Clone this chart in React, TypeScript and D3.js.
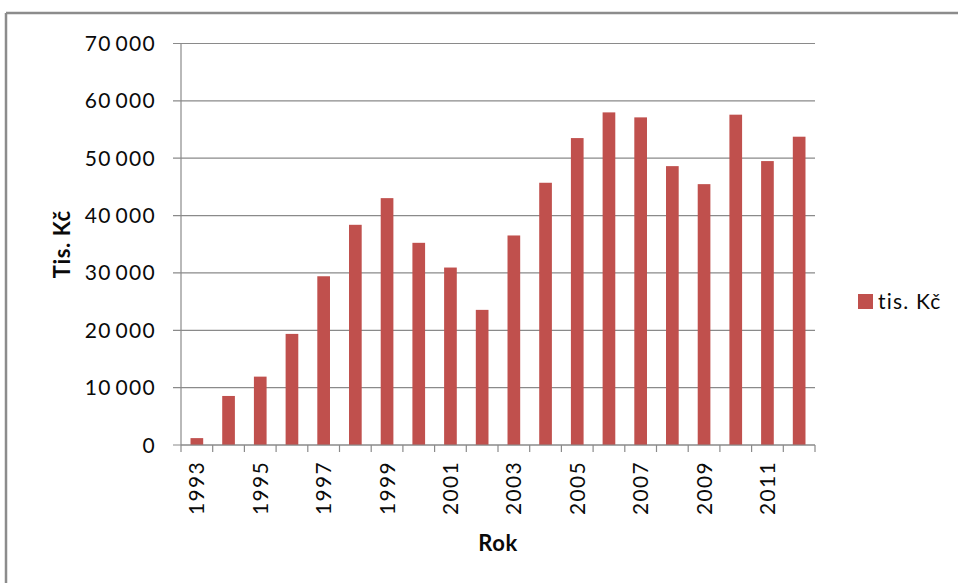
import React from "react";
import * as d3 from "d3";

const years = ["1993","1994","1995","1996","1997","1998","1999","2000","2001","2002","2003","2004","2005","2006","2007","2008","2009","2010","2011","2012"];
const values = [1200, 8550, 11920, 19370, 29420, 38390, 43040, 35250, 30940, 23560, 36530, 45720, 53510, 57990, 57120, 48620, 45480, 57590, 49500, 53750];
const yTicks = [0, 10000, 20000, 30000, 40000, 50000, 60000, 70000];
const xTickLabels = ["1993","1995","1997","1999","2001","2003","2005","2007","2009","2011"];
const seriesName = "tis. Kč";
const yTitle = "Tis. Kč";
const xTitle = "Rok";

const W = 958, H = 583;
const left = 181, right = 815, top = 43.5, bottom = 445;
const barColor = "#C0504D";
const gridColor = "#8a8a8a";
const font = "Lato, 'Open Sans', sans-serif";

const fmt = d3.formatLocale({ decimal: ",", thousands: "\u2009", grouping: [3], currency: ["", ""] }).format(",d");

export default function App() {
  const x = d3.scaleBand<string>().domain(years).range([left, right]).padding(0);
  const y = d3.scaleLinear().domain([0, 70000]).range([bottom, top]);
  const bw = x.bandwidth() * 0.4;
  const boundaries = years.map((yr) => x(yr) as number).concat([right]);

  return (
    <svg width={W} height={H} style={{ position: "absolute", left: 0, top: 0, background: "#fff" }}>
      <rect x={0} y={0} width={W} height={H} fill="#fff" />
      {/* outer frame */}
      <line x1={6} y1={13} x2={W} y2={13} stroke="#8c8c8c" strokeWidth={2.5} />
      <line x1={6} y1={13} x2={6} y2={H} stroke="#8c8c8c" strokeWidth={2.5} />

      {/* gridlines and y ticks */}
      {yTicks.map((t) => (
        <g key={t}>
          <line x1={173} x2={right} y1={y(t)} y2={y(t)} stroke={gridColor} strokeWidth={1.2} />
          <text x={156} y={y(t)} dy="0.36em" textAnchor="end" fontFamily={font} fontSize={21} letterSpacing={1.3} fill="#0a0a0a">
            {fmt(t)}
          </text>
        </g>
      ))}
      {/* y axis */}
      <line x1={left} x2={left} y1={top} y2={bottom} stroke={gridColor} strokeWidth={1.2} />

      {/* bars */}
      {years.map((yr, i) => (
        <rect
          key={yr}
          x={(x(yr) as number) + x.bandwidth() / 2 - bw / 2}
          y={y(values[i])}
          width={bw}
          height={bottom - y(values[i])}
          fill={barColor}
        />
      ))}

      {/* x axis */}
      <line x1={left} x2={right} y1={bottom} y2={bottom} stroke={gridColor} strokeWidth={1.2} />
      {boundaries.map((b, i) => (
        <line key={i} x1={b} x2={b} y1={bottom} y2={bottom + 7} stroke={gridColor} strokeWidth={1.2} />
      ))}
      {xTickLabels.map((yr) => {
        const cx = (x(yr) as number) + x.bandwidth() / 2;
        return (
          <text
            key={yr}
            transform={`translate(${cx},${461}) rotate(-90)`}
            textAnchor="end"
            dy="0.36em"
            fontFamily={font}
            fontSize={21}
            letterSpacing={1.3}
            fill="#0a0a0a"
          >
            {yr}
          </text>
        );
      })}

      {/* axis titles */}
      <text transform={`translate(62,${(top + bottom) / 2}) rotate(-90)`} textAnchor="middle" dy="0.36em" fontFamily={font} fontWeight="bold" fontSize={22} letterSpacing={0.6} fill="#0a0a0a">
        {yTitle}
      </text>
      <text x={(left + right) / 2} y={543} textAnchor="middle" dy="0.36em" fontFamily={font} fontWeight="bold" fontSize={22} letterSpacing={0.6} fill="#0a0a0a">
        {xTitle}
      </text>

      {/* legend */}
      <rect x={858} y={294} width={15} height={15} fill={barColor} />
      <text x={878} y={301.5} dy="0.36em" fontFamily={font} fontSize={21} letterSpacing={1.2} fill="#0a0a0a">
        {seriesName}
      </text>
    </svg>
  );
}
